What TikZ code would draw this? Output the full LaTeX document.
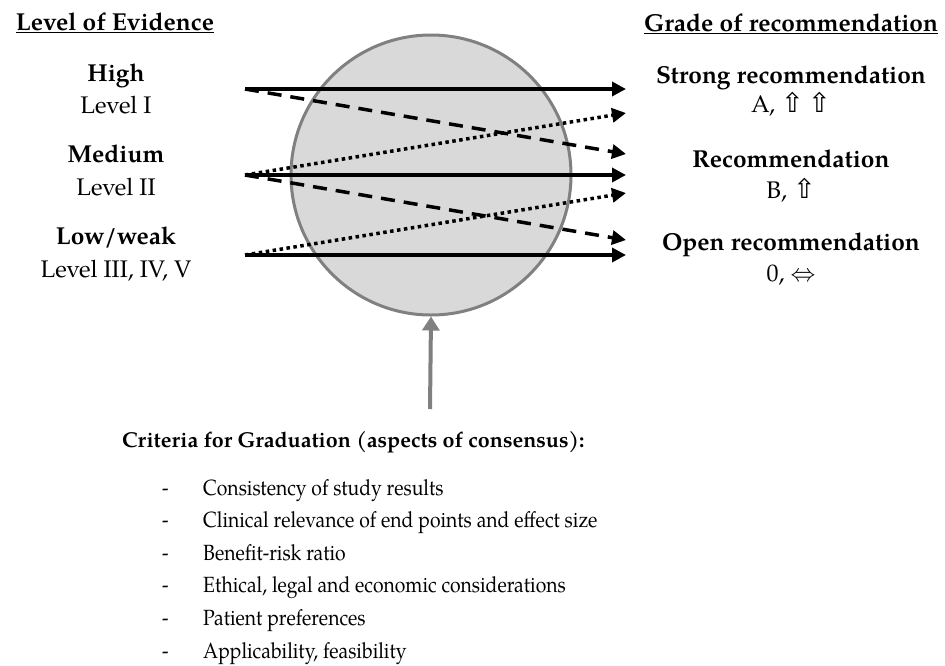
\documentclass[tikz,border=0pt]{standalone}
\usepackage{fontspec}
\setmainfont{TeX Gyre Pagella}
\newfontfamily\critfont[FakeStretch=0.88]{TeX Gyre Pagella}
\newfontfamily\symfont{DejaVu Sans}
\usetikzlibrary{arrows.meta}
\definecolor{circfill}{HTML}{D9D9D9}
\definecolor{circline}{HTML}{808080}
\tikzset{
  lbl/.style={anchor=base, inner sep=0pt, font=\fontsize{24}{28}\selectfont},
  hdr/.style={anchor=base, inner sep=0pt, font=\fontsize{24.5}{28}\selectfont\bfseries},
  crit/.style={anchor=base west, inner sep=0pt, font=\critfont\fontsize{22}{26}\selectfont},
  link/.style={line width=3.5pt, -{Triangle[length=14pt,width=14pt]}},
  solidlink/.style={link},
  dashlink/.style={link, dash pattern=on 14pt off 9pt},
  dotlink/.style={link, dash pattern=on 3.5pt off 3.5pt},
}
\begin{document}
\begin{tikzpicture}[x=1pt,y=-1pt]
\useasboundingbox (0,0) rectangle (945,665);
% circle
\node[circle, draw=circline, fill=circfill, line width=3pt, minimum size=280pt, inner sep=0pt] (circ) at (431,175) {};
% left labels
\node[hdr] (loe) at (115,30) {\underline{Level of Evidence}};
\node[hdr] (high) at (116,81) {High};
\node[lbl] (l1) at (116,113) {Level I};
\node[hdr] (med) at (116,162) {Medium};
\node[lbl] (l2) at (116,195) {Level II};
\node[hdr] (low) at (116,244) {Low/weak};
\node[lbl] (l3) at (116,277) {Level III, IV, V};
% right labels
\node[hdr] (gor) at (791,31) {\underline{Grade of recommendation}};
\node[hdr] (strong) at (791,83) {Strong recommendation};
\node[lbl] (ga) at (791,112) {A, {\symfont\fontsize{27}{30}\selectfont ⇧\,⇧}};
\node[hdr] (rec) at (791,167) {Recommendation};
\node[lbl] (gb) at (791,198) {B, {\symfont\fontsize{27}{30}\selectfont ⇧}};
\node[hdr] (open) at (791,250) {Open recommendation};
\node[lbl] (g0) at (791,281) {0, $\fontsize{24}{28}\selectfont\Leftrightarrow$};
% arrow endpoints
\coordinate (s1) at (245,89);
\coordinate (s2) at (245,175);
\coordinate (s3) at (245,255);
\coordinate (e1) at (626,89);
\coordinate (e2) at (626,113);
\coordinate (e3) at (626,154);
\coordinate (e4) at (626,175);
\coordinate (e5) at (626,193);
\coordinate (e6) at (626,240);
\coordinate (e7) at (626,255);
\draw[solidlink] (s1) -- (e1);
\draw[solidlink] (s2) -- (e4);
\draw[solidlink] (s3) -- (e7);
\draw[dashlink] (s1) -- (e3);
\draw[dashlink] (s2) -- (e6);
\draw[dotlink] (s2) -- (e2);
\draw[dotlink] (s3) -- (e5);
% gray arrow
\coordinate (g) at (430,409);
\draw[circline, line width=4pt, -{Triangle[length=14pt,width=17pt]}] (g) -- (circ.south);
% criteria
\node[anchor=base west, inner sep=0pt, font=\fontsize{21.5}{26}\selectfont\bfseries] (crith) at (122,447) {Criteria for Graduation (aspects of consensus):};
\foreach \t [count=\i] in {Consistency of study results,
  Clinical relevance of end points and effect size,
  Benefit-risk ratio,
  {Ethical, legal and economic considerations},
  Patient preferences,
  {Applicability, feasibility}} {
  \node[crit] (d\i) at (162,{495+32.6*(\i-1)}) {-};
  \node[crit] (c\i) at (203,{495+32.6*(\i-1)}) {\t};
}
\end{tikzpicture}
\end{document}
